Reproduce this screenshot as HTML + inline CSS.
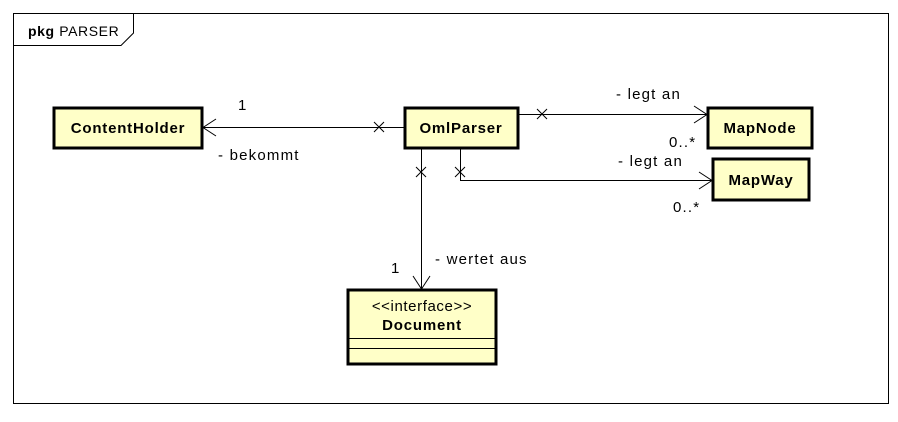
<!DOCTYPE html>
<html><head><style>body{margin:0;background:#fff}</style></head><body>
<svg width="898" height="417" xmlns="http://www.w3.org/2000/svg" font-family="Liberation Sans, DejaVu Sans, sans-serif" font-size="15" letter-spacing="1.2">
<rect x="13.5" y="13.5" width="875" height="390" fill="#fff" stroke="#000"/>
<path d="M13.5 45.5 H121 L133.5 33 V13.5" fill="none" stroke="#000"/>
<text x="28" y="36" font-size="14" letter-spacing="0.6"><tspan font-weight="bold">pkg</tspan> PARSER</text>
<g fill="#ffffc8" stroke="#000" stroke-width="3">
<rect x="54" y="108" width="148" height="40"/>
<rect x="405" y="108" width="113" height="40"/>
<rect x="708" y="108" width="104" height="40"/>
<rect x="713" y="159" width="96" height="41"/>
<rect x="348" y="290" width="148" height="74"/>
</g>
<g stroke="#000" fill="none">
<line x1="348" y1="338.5" x2="496" y2="338.5"/>
<line x1="348" y1="348.5" x2="496" y2="348.5"/>
<line x1="203" y1="127.5" x2="404" y2="127.5"/>
<path d="M216 119 L203 127.5 L216 136"/>
<path d="M374 122 l10 10 M374 132 l10 -10"/>
<line x1="518" y1="114.5" x2="707" y2="114.5"/>
<path d="M694 106 L707 114.5 L694 123"/>
<path d="M537 109 l10 10 M537 119 l10 -10"/>
<path d="M460.5 148 V180.5 H712"/>
<path d="M699 172 L712 180.5 L699 189"/>
<path d="M455 167 l10 10 M455 177 l10 -10"/>
<line x1="421.5" y1="148" x2="421.5" y2="289"/>
<path d="M413 276 L421.5 289 L430 276"/>
<path d="M416 167 l10 10 M416 177 l10 -10"/>
</g>
<g font-weight="bold" font-size="15" letter-spacing="0.8" text-anchor="middle">
<text x="128" y="133">ContentHolder</text>
<text x="461" y="133">OmlParser</text>
<text x="760" y="133">MapNode</text>
<text x="761" y="185">MapWay</text>
<text x="422" y="330">Document</text>
</g>
<text x="422" y="311" text-anchor="middle" letter-spacing="0.6">&lt;&lt;interface&gt;&gt;</text>
<text x="238" y="110">1</text>
<text x="218" y="160">- bekommt</text>
<text x="616" y="99">- legt an</text>
<text x="669" y="147">0..*</text>
<text x="618" y="166">- legt an</text>
<text x="673" y="212">0..*</text>
<text x="391" y="273">1</text>
<text x="435" y="264">- wertet aus</text>
</svg>
</body></html>
